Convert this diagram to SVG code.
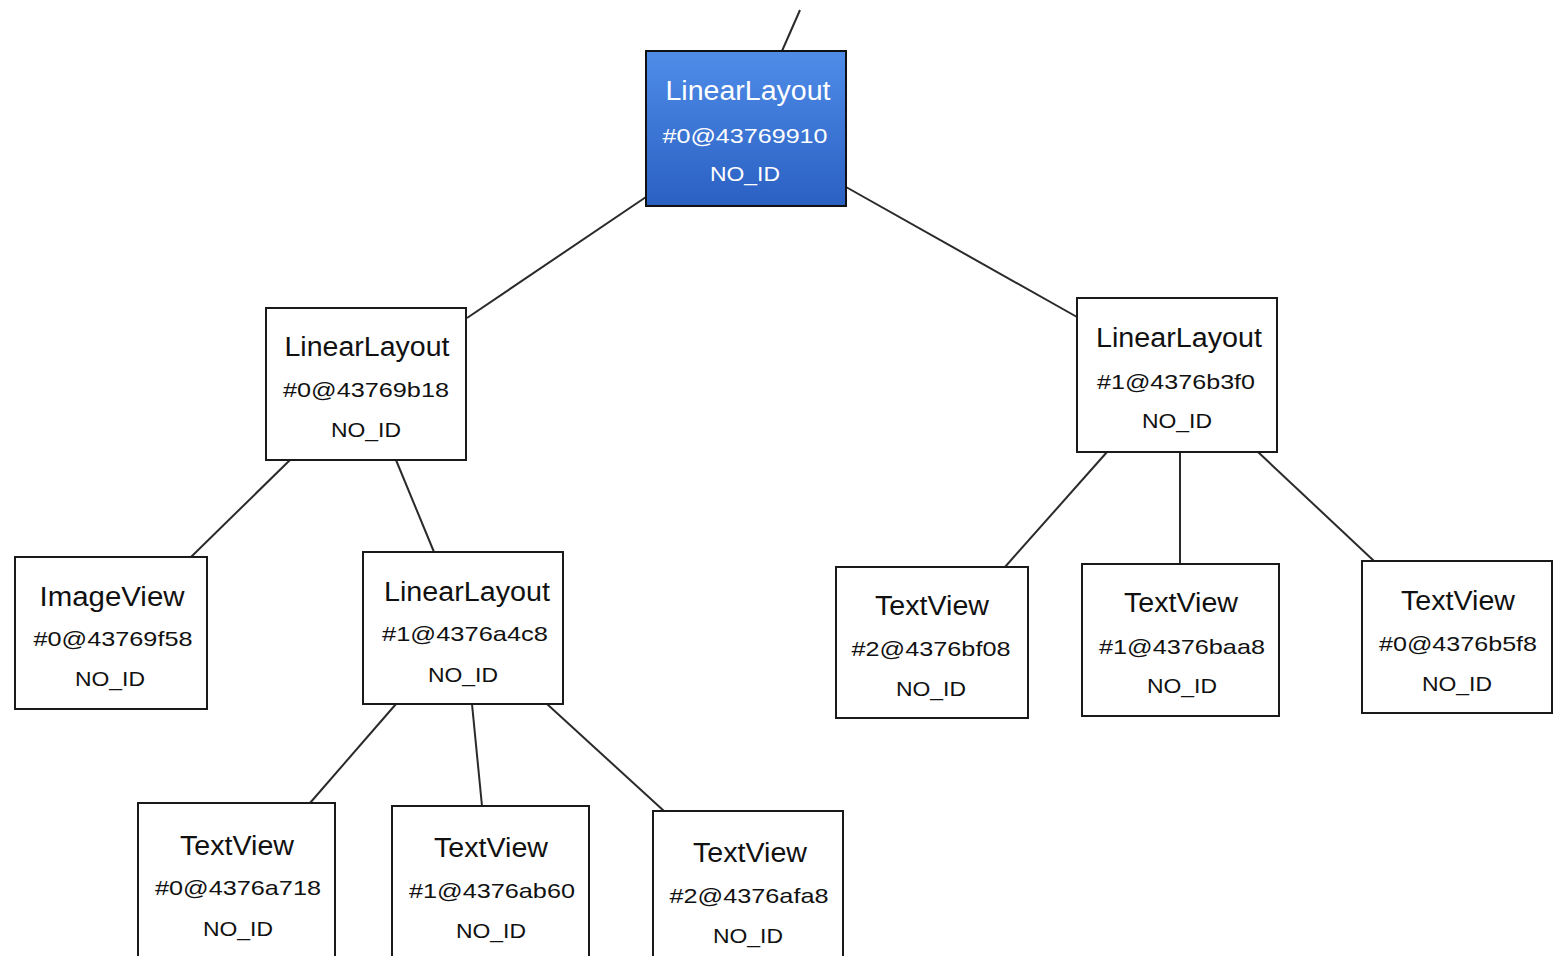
<svg xmlns="http://www.w3.org/2000/svg" width="1556" height="956" viewBox="0 0 1556 956">
<style>
.box{fill:#ffffff;stroke:#1a1a1a;stroke-width:2}
.sel{fill:url(#blue);stroke:#111111;stroke-width:2}
.edge{stroke:#2a2a2a;stroke-width:2;fill:none}
text{font-family:"Liberation Sans",Arial,sans-serif;text-anchor:middle;fill:#111111}
.t{font-size:27px}
.i{font-size:21px}
.n{font-size:21px}
.w text{fill:#ffffff}
</style>
<defs>
<linearGradient id="blue" x1="0" y1="0" x2="0" y2="1">
<stop offset="0" stop-color="#4f8ce8"/>
<stop offset="1" stop-color="#2a60c2"/>
</linearGradient>
</defs>
<rect width="1556" height="956" fill="#ffffff"/>
<g id="connectors">
<line class="edge" x1="800" y1="10" x2="782" y2="51"/>
<line class="edge" x1="646" y1="197" x2="467" y2="318"/>
<line class="edge" x1="846" y1="187" x2="1077" y2="317"/>
<line class="edge" x1="290" y1="460" x2="191" y2="557"/>
<line class="edge" x1="396" y1="460" x2="434" y2="552"/>
<line class="edge" x1="396" y1="704" x2="310" y2="803"/>
<line class="edge" x1="472" y1="704" x2="482" y2="806"/>
<line class="edge" x1="547" y1="704" x2="664" y2="811"/>
<line class="edge" x1="1107" y1="452" x2="1005" y2="567"/>
<line class="edge" x1="1180" y1="452" x2="1180" y2="564"/>
<line class="edge" x1="1258" y1="452" x2="1374" y2="561"/>
</g>
<g id="n0" class="w">
<rect class="sel" x="646" y="51" width="200" height="155"/>
<text class="t" x="748" y="100" textLength="165" lengthAdjust="spacingAndGlyphs">LinearLayout</text>
<text class="i" x="745" y="143" textLength="165" lengthAdjust="spacingAndGlyphs">#0@43769910</text>
<text class="n" x="745" y="181" textLength="70" lengthAdjust="spacingAndGlyphs">NO_ID</text>
</g>
<g id="n1">
<rect class="box" x="266" y="308" width="200" height="152"/>
<text class="t" x="367" y="356" textLength="165" lengthAdjust="spacingAndGlyphs">LinearLayout</text>
<text class="i" x="366" y="397" textLength="166" lengthAdjust="spacingAndGlyphs">#0@43769b18</text>
<text class="n" x="366" y="437" textLength="70" lengthAdjust="spacingAndGlyphs">NO_ID</text>
</g>
<g id="n2">
<rect class="box" x="1077" y="298" width="200" height="154"/>
<text class="t" x="1179" y="347" textLength="166" lengthAdjust="spacingAndGlyphs">LinearLayout</text>
<text class="i" x="1176" y="389" textLength="158" lengthAdjust="spacingAndGlyphs">#1@4376b3f0</text>
<text class="n" x="1177" y="428" textLength="70" lengthAdjust="spacingAndGlyphs">NO_ID</text>
</g>
<g id="n3">
<rect class="box" x="15" y="557" width="192" height="152"/>
<text class="t" x="112" y="606" textLength="145" lengthAdjust="spacingAndGlyphs">ImageView</text>
<text class="i" x="113" y="646" textLength="159" lengthAdjust="spacingAndGlyphs">#0@43769f58</text>
<text class="n" x="110" y="686" textLength="70" lengthAdjust="spacingAndGlyphs">NO_ID</text>
</g>
<g id="n4">
<rect class="box" x="363" y="552" width="200" height="152"/>
<text class="t" x="467" y="601" textLength="166" lengthAdjust="spacingAndGlyphs">LinearLayout</text>
<text class="i" x="465" y="641" textLength="166" lengthAdjust="spacingAndGlyphs">#1@4376a4c8</text>
<text class="n" x="463" y="682" textLength="70" lengthAdjust="spacingAndGlyphs">NO_ID</text>
</g>
<g id="n5">
<rect class="box" x="836" y="567" width="192" height="151"/>
<text class="t" x="932" y="615" textLength="114" lengthAdjust="spacingAndGlyphs">TextView</text>
<text class="i" x="931" y="656" textLength="159" lengthAdjust="spacingAndGlyphs">#2@4376bf08</text>
<text class="n" x="931" y="696" textLength="70" lengthAdjust="spacingAndGlyphs">NO_ID</text>
</g>
<g id="n6">
<rect class="box" x="1082" y="564" width="197" height="152"/>
<text class="t" x="1181" y="612" textLength="114" lengthAdjust="spacingAndGlyphs">TextView</text>
<text class="i" x="1182" y="654" textLength="166" lengthAdjust="spacingAndGlyphs">#1@4376baa8</text>
<text class="n" x="1182" y="693" textLength="70" lengthAdjust="spacingAndGlyphs">NO_ID</text>
</g>
<g id="n7">
<rect class="box" x="1362" y="561" width="190" height="152"/>
<text class="t" x="1458" y="610" textLength="114" lengthAdjust="spacingAndGlyphs">TextView</text>
<text class="i" x="1458" y="651" textLength="158" lengthAdjust="spacingAndGlyphs">#0@4376b5f8</text>
<text class="n" x="1457" y="691" textLength="70" lengthAdjust="spacingAndGlyphs">NO_ID</text>
</g>
<g id="n8">
<rect class="box" x="138" y="803" width="197" height="170"/>
<text class="t" x="237" y="855" textLength="114" lengthAdjust="spacingAndGlyphs">TextView</text>
<text class="i" x="238" y="895" textLength="166" lengthAdjust="spacingAndGlyphs">#0@4376a718</text>
<text class="n" x="238" y="936" textLength="70" lengthAdjust="spacingAndGlyphs">NO_ID</text>
</g>
<g id="n9">
<rect class="box" x="392" y="806" width="197" height="170"/>
<text class="t" x="491" y="857" textLength="114" lengthAdjust="spacingAndGlyphs">TextView</text>
<text class="i" x="492" y="898" textLength="166" lengthAdjust="spacingAndGlyphs">#1@4376ab60</text>
<text class="n" x="491" y="938" textLength="70" lengthAdjust="spacingAndGlyphs">NO_ID</text>
</g>
<g id="n10">
<rect class="box" x="653" y="811" width="190" height="170"/>
<text class="t" x="750" y="862" textLength="114" lengthAdjust="spacingAndGlyphs">TextView</text>
<text class="i" x="749" y="903" textLength="159" lengthAdjust="spacingAndGlyphs">#2@4376afa8</text>
<text class="n" x="748" y="943" textLength="70" lengthAdjust="spacingAndGlyphs">NO_ID</text>
</g>
</svg>
